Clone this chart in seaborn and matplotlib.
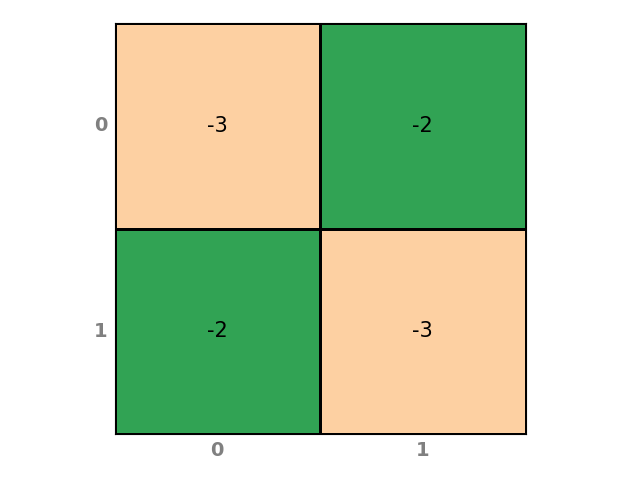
import numpy as np
import pandas as pd
import matplotlib
matplotlib.use('Agg')
import matplotlib.pyplot as plt
import seaborn as sns
from matplotlib.colors import ListedColormap

rows = ['0', '1']
cols = ['0', '1']
values = [[-3, -2],
          [-2, -3]]

df = pd.DataFrame(values, index=rows, columns=cols)

fig = plt.figure(figsize=(6.4, 4.8), dpi=100)
ax = fig.add_axes([114/640, 46/480, 412/640, 411/480])

cmap = ListedColormap(['#fdd0a2', '#31a354'])
sns.heatmap(df, ax=ax, cmap=cmap, vmin=-3, vmax=-2, cbar=False,
            annot=True, fmt='d', annot_kws={'size': 15, 'color': 'black'},
            linewidths=0.8, linecolor='black', square=True)

for s in ax.spines.values():
    s.set_visible(True)
    s.set_color('black')
    s.set_linewidth(0.8)

ax.tick_params(length=0, labelsize=14, labelcolor='gray', pad=5)
for lab in ax.get_xticklabels() + ax.get_yticklabels():
    lab.set_fontweight('bold')
plt.setp(ax.get_yticklabels(), rotation=0)

fig.savefig('out.png', dpi=100)
